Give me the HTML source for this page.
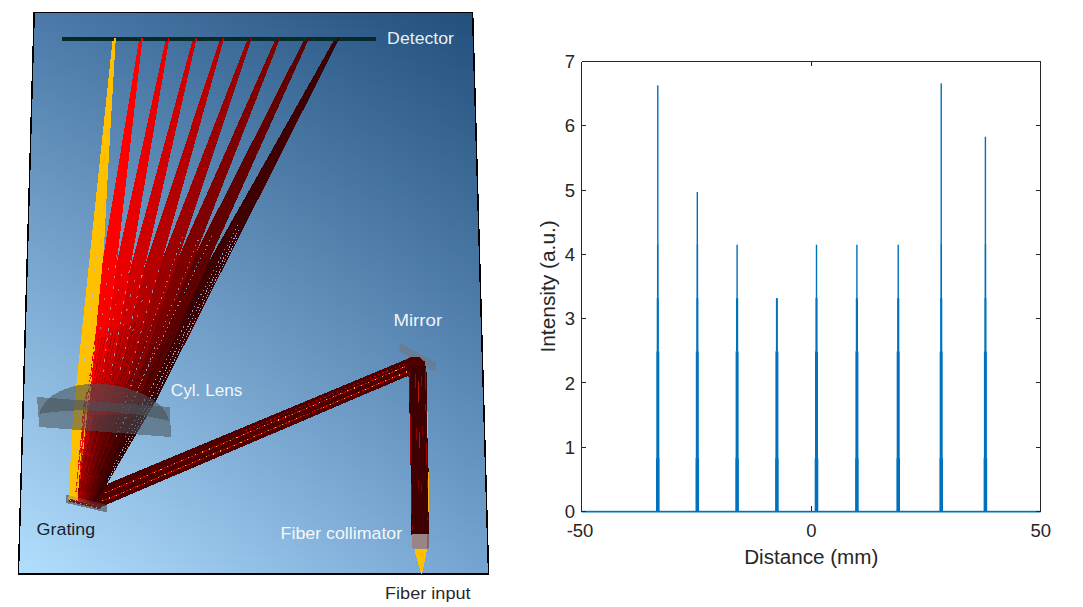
<!DOCTYPE html>
<html>
<head>
<meta charset="utf-8">
<title>Spectrometer ray trace and detector intensity</title>
<style>
  html, body { margin: 0; padding: 0; background: #ffffff; }
  body { width: 1083px; height: 607px; overflow: hidden; }
  svg { display: block; font-family: "Liberation Sans", sans-serif; }
</style>
</head>
<body>
<svg width="1083" height="607" viewBox="0 0 1083 607">
<rect x="0" y="0" width="1083" height="607" fill="#ffffff"/>
<defs>
<linearGradient id="bgTop" gradientUnits="userSpaceOnUse" x1="26" y1="0" x2="481" y2="0"><stop offset="0" stop-color="#4c7baa"/><stop offset="1" stop-color="#224f7c"/></linearGradient>
<linearGradient id="bgBot" gradientUnits="userSpaceOnUse" x1="26" y1="0" x2="481" y2="0"><stop offset="0" stop-color="#b2defd"/><stop offset="1" stop-color="#76a5d2"/></linearGradient>
<linearGradient id="bgMix" gradientUnits="userSpaceOnUse" x1="0" y1="12" x2="0" y2="574"><stop offset="0" stop-color="#fff" stop-opacity="0"/><stop offset="1" stop-color="#fff" stop-opacity="1"/></linearGradient>
<mask id="bgMask" maskUnits="userSpaceOnUse" x="0" y="0" width="520" height="607"><rect x="0" y="0" width="520" height="607" fill="url(#bgMix)"/></mask>
<clipPath id="panelclip"><polygon points="34.2,12.3 472.6,12.3 488.6,574.2 18.4,574.2"/></clipPath>
</defs>
<polygon points="34.2,12.3 472.6,12.3 488.6,574.2 18.4,574.2" fill="url(#bgTop)"/>
<polygon points="34.2,12.3 472.6,12.3 488.6,574.2 18.4,574.2" fill="url(#bgBot)" mask="url(#bgMask)"/>
<polygon points="34.2,12.3 472.6,12.3 488.6,574.2 18.4,574.2" fill="none" stroke="#000" stroke-width="1.5" stroke-linejoin="miter" shape-rendering="crispEdges"/>
<g clip-path="url(#panelclip)" shape-rendering="crispEdges">
<polygon points="66.0,494.5 107.0,505.0 107.0,512.5 66.3,503.0" fill="#66727c" fill-opacity="0.85"/>
<polygon points="335.4,37.5 339.9,37.5 267.9,180.0 156.4,400.0 107.0,484.0 100.5,507.8 83.6,503.1 130.5,400.0 255.0,180.0" fill="#3e0000"/>
<polygon points="305.2,37.5 309.5,37.5 245.5,180.0 146.3,400.0 91.3,505.1 81.6,502.7 121.1,400.0 233.0,180.0" fill="#620000"/>
<polygon points="276.2,37.5 280.4,37.5 224.7,180.0 138.5,400.0 89.2,504.5 79.7,502.2 115.0,400.0 213.0,180.0" fill="#800000"/>
<polygon points="248.2,37.5 252.1,37.5 204.5,180.0 130.7,400.0 87.1,504.0 77.8,501.7 107.4,400.0 193.0,180.0" fill="#9c0000"/>
<polygon points="220.6,37.5 224.2,37.5 184.5,180.0 122.9,400.0 85.0,503.5 75.9,501.2 100.6,400.0 173.5,180.0" fill="#b60000"/>
<polygon points="193.3,37.5 196.8,37.5 164.5,180.0 114.4,400.0 82.9,503.0 74.0,500.7 94.3,400.0 154.5,180.0" fill="#d00000"/>
<polygon points="166.2,37.5 169.5,37.5 145.3,180.0 107.9,400.0 80.7,502.4 72.0,500.3 86.7,400.0 135.0,180.0" fill="#e80000"/>
<polygon points="139.4,37.5 142.6,37.5 126.3,180.0 101.1,400.0 78.6,501.9 70.1,499.8 79.7,400.0 116.0,180.0" fill="#ff0000"/>
<polyline points="101.2,294.0 92.7,350.0 85.0,400.0 79.9,440.0 75.5,475.0" fill="none" stroke="#e80000" stroke-width="1.1" stroke-opacity="0.55" stroke-dasharray="5 2 9 3"/>
<polyline points="105.2,294.0 97.4,350.0 90.4,400.0 84.0,440.0 78.5,475.0" fill="none" stroke="#e80000" stroke-width="1.1" stroke-opacity="0.45" stroke-dasharray="5 2 9 3"/>
<polyline points="109.2,294.0 102.1,350.0 95.8,400.0 88.2,440.0 81.5,475.0" fill="none" stroke="#e80000" stroke-width="1.1" stroke-opacity="0.55" stroke-dasharray="5 2 9 3"/>
<polyline points="115.2,288.0 102.4,350.0 92.0,400.0 85.0,440.0 78.8,475.0" fill="none" stroke="#d00000" stroke-width="1.1" stroke-opacity="0.55" stroke-dasharray="5 2 9 3"/>
<polyline points="119.1,288.0 107.0,350.0 97.3,400.0 89.1,440.0 81.8,475.0" fill="none" stroke="#d00000" stroke-width="1.1" stroke-opacity="0.45" stroke-dasharray="5 2 9 3"/>
<polyline points="123.0,288.0 111.7,350.0 102.6,400.0 93.2,440.0 84.9,475.0" fill="none" stroke="#d00000" stroke-width="1.1" stroke-opacity="0.55" stroke-dasharray="5 2 9 3"/>
<polyline points="130.3,282.0 112.4,350.0 99.3,400.0 90.2,440.0 82.2,475.0" fill="none" stroke="#b60000" stroke-width="1.1" stroke-opacity="0.55" stroke-dasharray="5 2 9 3"/>
<polyline points="133.9,282.0 116.9,350.0 104.3,400.0 94.2,440.0 85.2,475.0" fill="none" stroke="#b60000" stroke-width="1.1" stroke-opacity="0.45" stroke-dasharray="5 2 9 3"/>
<polyline points="137.6,282.0 121.3,350.0 109.4,400.0 98.1,440.0 88.3,475.0" fill="none" stroke="#b60000" stroke-width="1.1" stroke-opacity="0.55" stroke-dasharray="5 2 9 3"/>
<polyline points="145.7,276.0 122.1,350.0 106.2,400.0 95.2,440.0 85.5,475.0" fill="none" stroke="#9c0000" stroke-width="1.1" stroke-opacity="0.55" stroke-dasharray="5 2 9 3"/>
<polyline points="149.7,276.0 127.0,350.0 111.8,400.0 99.5,440.0 88.8,475.0" fill="none" stroke="#9c0000" stroke-width="1.1" stroke-opacity="0.45" stroke-dasharray="5 2 9 3"/>
<polyline points="153.6,276.0 132.0,350.0 117.3,400.0 103.9,440.0 92.1,475.0" fill="none" stroke="#9c0000" stroke-width="1.1" stroke-opacity="0.55" stroke-dasharray="5 2 9 3"/>
<polyline points="162.1,270.0 132.0,350.0 113.2,400.0 100.3,440.0 88.9,475.0" fill="none" stroke="#800000" stroke-width="1.1" stroke-opacity="0.55" stroke-dasharray="5 2 9 3"/>
<polyline points="166.1,270.0 137.2,350.0 119.0,400.0 104.8,440.0 92.4,475.0" fill="none" stroke="#800000" stroke-width="1.1" stroke-opacity="0.45" stroke-dasharray="5 2 9 3"/>
<polyline points="170.2,270.0 142.3,350.0 124.9,400.0 109.4,440.0 95.8,475.0" fill="none" stroke="#800000" stroke-width="1.1" stroke-opacity="0.55" stroke-dasharray="5 2 9 3"/>
<polyline points="179.6,264.0 142.5,350.0 120.9,400.0 105.8,440.0 92.6,475.0" fill="none" stroke="#620000" stroke-width="1.1" stroke-opacity="0.55" stroke-dasharray="5 2 9 3"/>
<polyline points="183.7,264.0 147.7,350.0 126.7,400.0 110.4,440.0 96.1,475.0" fill="none" stroke="#620000" stroke-width="1.1" stroke-opacity="0.45" stroke-dasharray="5 2 9 3"/>
<polyline points="187.7,264.0 152.9,350.0 132.6,400.0 115.0,440.0 99.6,475.0" fill="none" stroke="#620000" stroke-width="1.1" stroke-opacity="0.55" stroke-dasharray="5 2 9 3"/>
<polyline points="197.6,258.0 152.1,350.0 127.4,400.0 110.6,440.0 95.9,475.0" fill="none" stroke="#3e0000" stroke-width="1.1" stroke-opacity="0.55" stroke-dasharray="5 2 9 3"/>
<polyline points="201.8,258.0 157.7,350.0 133.7,400.0 115.5,440.0 99.6,475.0" fill="none" stroke="#3e0000" stroke-width="1.1" stroke-opacity="0.45" stroke-dasharray="5 2 9 3"/>
<polyline points="206.1,258.0 163.2,350.0 140.0,400.0 120.4,440.0 103.3,475.0" fill="none" stroke="#3e0000" stroke-width="1.1" stroke-opacity="0.55" stroke-dasharray="5 2 9 3"/>
<polyline points="218.5,252.0 164.5,350.0 137.0,400.0 117.6,440.0 100.7,475.0" fill="none" stroke="#2c0000" stroke-width="1.1" stroke-opacity="0.55" stroke-dasharray="5 2 9 3"/>
<polyline points="222.8,252.0 170.3,350.0 143.5,400.0 122.9,440.0 104.8,475.0" fill="none" stroke="#2c0000" stroke-width="1.1" stroke-opacity="0.45" stroke-dasharray="5 2 9 3"/>
<polyline points="227.1,252.0 176.0,350.0 149.9,400.0 128.0,440.0 108.7,475.0" fill="none" stroke="#2c0000" stroke-width="1.1" stroke-opacity="0.55" stroke-dasharray="5 2 9 3"/>
<linearGradient id="fanshade" gradientUnits="userSpaceOnUse" x1="0" y1="320" x2="0" y2="490"><stop offset="0" stop-color="#300000" stop-opacity="0"/><stop offset="0.45" stop-color="#300000" stop-opacity="0.18"/><stop offset="1" stop-color="#300000" stop-opacity="0.38"/></linearGradient>
<polygon points="102.4,320.0 97.0,360.0 91.5,400.0 83.2,450.0 75.3,498.0 100.0,505.5 107.0,484.0 156.4,400.0 176.7,360.0 197.0,320.0" fill="url(#fanshade)"/>
<linearGradient id="fanshade2" gradientUnits="userSpaceOnUse" x1="84" y1="470" x2="128" y2="455"><stop offset="0" stop-color="#2a0000" stop-opacity="0"/><stop offset="0.5" stop-color="#2a0000" stop-opacity="0.30"/><stop offset="1" stop-color="#2a0000" stop-opacity="0.45"/></linearGradient>
<polygon points="93.9,415.0 87.0,450.0 77.2,500.0 100.0,507.5 107.0,484.0 127.0,450.0 147.6,415.0" fill="url(#fanshade2)"/>
<polyline points="95.4,340.3 93.8,350.0 85.3,400.0 78.8,450.0 73.3,492.0" fill="none" stroke="#380000" stroke-width="1" stroke-opacity="0.22" stroke-dasharray="16 2"/>
<polyline points="98.8,338.7 96.8,350.0 87.7,400.0 80.4,450.0 74.3,492.0" fill="none" stroke="#380000" stroke-width="1" stroke-opacity="0.22" stroke-dasharray="12 2"/>
<polyline points="102.3,337.0 99.8,350.0 90.2,400.0 82.1,450.0 75.3,492.0" fill="none" stroke="#380000" stroke-width="1" stroke-opacity="0.38" stroke-dasharray="19 2"/>
<polyline points="105.8,335.3 102.8,350.0 92.6,400.0 83.7,450.0 76.3,492.0" fill="none" stroke="#380000" stroke-width="1" stroke-opacity="0.22" stroke-dasharray="15 2"/>
<polyline points="109.3,333.7 105.8,350.0 95.0,400.0 85.4,450.0 77.3,492.0" fill="none" stroke="#380000" stroke-width="1" stroke-opacity="0.22" stroke-dasharray="11 2"/>
<polyline points="112.9,332.0 108.8,350.0 97.4,400.0 87.0,450.0 78.3,492.0" fill="none" stroke="#380000" stroke-width="1" stroke-opacity="0.38" stroke-dasharray="18 2"/>
<polyline points="116.5,330.3 111.8,350.0 99.9,400.0 88.7,450.0 79.2,492.0" fill="none" stroke="#380000" stroke-width="1" stroke-opacity="0.22" stroke-dasharray="14 2"/>
<polyline points="120.2,328.7 114.8,350.0 102.3,400.0 90.3,450.0 80.2,492.0" fill="none" stroke="#380000" stroke-width="1" stroke-opacity="0.22" stroke-dasharray="10 2"/>
<polyline points="123.9,327.0 117.9,350.0 104.7,400.0 91.9,450.0 81.2,492.0" fill="none" stroke="#380000" stroke-width="1" stroke-opacity="0.38" stroke-dasharray="17 2"/>
<polyline points="127.6,325.3 120.9,350.0 107.1,400.0 93.6,450.0 82.2,492.0" fill="none" stroke="#380000" stroke-width="1" stroke-opacity="0.22" stroke-dasharray="13 2"/>
<polyline points="131.4,323.7 123.9,350.0 109.6,400.0 95.2,450.0 83.2,492.0" fill="none" stroke="#380000" stroke-width="1" stroke-opacity="0.22" stroke-dasharray="9 2"/>
<polyline points="135.2,322.0 126.9,350.0 112.0,400.0 96.9,450.0 84.2,492.0" fill="none" stroke="#380000" stroke-width="1" stroke-opacity="0.38" stroke-dasharray="16 2"/>
<polyline points="139.1,320.3 129.9,350.0 114.4,400.0 98.5,450.0 85.2,492.0" fill="none" stroke="#380000" stroke-width="1" stroke-opacity="0.22" stroke-dasharray="12 2"/>
<polyline points="143.0,318.7 132.9,350.0 116.8,400.0 100.2,450.0 86.2,492.0" fill="none" stroke="#380000" stroke-width="1" stroke-opacity="0.22" stroke-dasharray="19 2"/>
<polyline points="146.9,317.0 135.9,350.0 119.3,400.0 101.8,450.0 87.1,492.0" fill="none" stroke="#380000" stroke-width="1" stroke-opacity="0.38" stroke-dasharray="15 2"/>
<polyline points="150.9,315.3 138.9,350.0 121.7,400.0 103.5,450.0 88.1,492.0" fill="none" stroke="#380000" stroke-width="1" stroke-opacity="0.22" stroke-dasharray="11 2"/>
<polyline points="154.9,313.7 141.9,350.0 124.1,400.0 105.1,450.0 89.1,492.0" fill="none" stroke="#380000" stroke-width="1" stroke-opacity="0.22" stroke-dasharray="18 2"/>
<polyline points="158.9,312.0 144.9,350.0 126.5,400.0 106.7,450.0 90.1,492.0" fill="none" stroke="#380000" stroke-width="1" stroke-opacity="0.38" stroke-dasharray="14 2"/>
<polyline points="163.0,310.3 148.0,350.0 129.0,400.0 108.4,450.0 91.1,492.0" fill="none" stroke="#380000" stroke-width="1" stroke-opacity="0.22" stroke-dasharray="10 2"/>
<polyline points="167.2,308.7 151.0,350.0 131.4,400.0 110.0,450.0 92.1,492.0" fill="none" stroke="#380000" stroke-width="1" stroke-opacity="0.22" stroke-dasharray="17 2"/>
<polyline points="171.3,307.0 154.0,350.0 133.8,400.0 111.7,450.0 93.1,492.0" fill="none" stroke="#380000" stroke-width="1" stroke-opacity="0.38" stroke-dasharray="13 2"/>
<polyline points="175.5,305.3 157.0,350.0 136.2,400.0 113.3,450.0 94.1,492.0" fill="none" stroke="#380000" stroke-width="1" stroke-opacity="0.22" stroke-dasharray="9 2"/>
<polyline points="179.8,303.7 160.0,350.0 138.7,400.0 115.0,450.0 95.0,492.0" fill="none" stroke="#380000" stroke-width="1" stroke-opacity="0.22" stroke-dasharray="16 2"/>
<polyline points="184.0,302.0 163.0,350.0 141.1,400.0 116.6,450.0 96.0,492.0" fill="none" stroke="#380000" stroke-width="1" stroke-opacity="0.38" stroke-dasharray="12 2"/>
<polyline points="188.4,300.3 166.0,350.0 143.5,400.0 118.3,450.0 97.0,492.0" fill="none" stroke="#380000" stroke-width="1" stroke-opacity="0.22" stroke-dasharray="19 2"/>
<polyline points="192.7,298.7 169.0,350.0 145.9,400.0 119.9,450.0 98.0,492.0" fill="none" stroke="#380000" stroke-width="1" stroke-opacity="0.22" stroke-dasharray="15 2"/>
<polyline points="197.1,297.0 172.0,350.0 148.4,400.0 121.5,450.0 99.0,492.0" fill="none" stroke="#380000" stroke-width="1" stroke-opacity="0.38" stroke-dasharray="11 2"/>
<polyline points="201.6,295.3 175.1,350.0 150.8,400.0 123.2,450.0 100.0,492.0" fill="none" stroke="#380000" stroke-width="1" stroke-opacity="0.22" stroke-dasharray="18 2"/>
<polyline points="206.0,293.7 178.1,350.0 153.2,400.0 124.8,450.0 101.0,492.0" fill="none" stroke="#380000" stroke-width="1" stroke-opacity="0.22" stroke-dasharray="14 2"/>
<polygon points="112.8,37.5 115.8,37.5 107.5,180.0 103.8,250.0 96.1,330.0 88.0,384.0 82.5,430.0 80.6,460.0 77.5,501.6 68.4,499.4 70.6,460.0 72.2,430.0 74.8,400.0 82.0,330.0 97.8,180.0" fill="#ffc000"/>
<line x1="92.5" y1="350.0" x2="84.0" y2="440.0" stroke="#ffc000" stroke-width="1.2" stroke-dasharray="7 3 4 2"/>
<line x1="90.0" y1="362.0" x2="82.5" y2="455.0" stroke="#ffb000" stroke-width="1.2" stroke-dasharray="7 3 4 2"/>
<line x1="94.5" y1="345.0" x2="88.5" y2="405.0" stroke="#ffc000" stroke-width="1.2" stroke-dasharray="7 3 4 2"/>
<line x1="86.5" y1="392.0" x2="80.0" y2="480.0" stroke="#ff2000" stroke-width="1.2" stroke-dasharray="7 3 4 2"/>
<line x1="84.5" y1="400.0" x2="78.5" y2="470.0" stroke="#e01000" stroke-width="1.2" stroke-dasharray="7 3 4 2"/>
<line x1="81.0" y1="440.0" x2="76.0" y2="492.0" stroke="#e82000" stroke-width="1.2" stroke-dasharray="7 3 4 2"/>
<polyline points="117.0,255.0 111.7,300.0 105.9,350.0 103.0,375.0" fill="none" stroke="#9cc0e4" stroke-width="1" stroke-dasharray="2.5 8" stroke-opacity="0.72"/>
<polyline points="108.8,268.0 104.4,300.0 99.5,335.0" fill="none" stroke="#9cc0e4" stroke-width="1" stroke-dasharray="2 13" stroke-opacity="0.60"/>
<polyline points="131.0,260.0 124.1,300.0 115.5,350.0 111.1,375.0" fill="none" stroke="#9cc0e4" stroke-width="1" stroke-dasharray="2.5 8" stroke-opacity="0.72"/>
<polyline points="121.8,274.0 116.8,300.0 110.0,335.0" fill="none" stroke="#9cc0e4" stroke-width="1" stroke-dasharray="2 13" stroke-opacity="0.60"/>
<polyline points="144.4,265.0 136.4,300.0 124.9,350.0 119.1,375.0" fill="none" stroke="#9cc0e4" stroke-width="1" stroke-dasharray="2.5 8" stroke-opacity="0.72"/>
<polyline points="134.4,280.0 129.4,300.0 120.6,335.0" fill="none" stroke="#9cc0e4" stroke-width="1" stroke-dasharray="2 13" stroke-opacity="0.60"/>
<polyline points="158.5,270.0 150.0,300.0 135.9,350.0 128.9,375.0" fill="none" stroke="#9cc0e4" stroke-width="1" stroke-dasharray="2.5 8" stroke-opacity="0.72"/>
<polyline points="146.6,286.0 142.3,300.0 131.6,335.0" fill="none" stroke="#9cc0e4" stroke-width="1" stroke-dasharray="2 13" stroke-opacity="0.60"/>
<polyline points="182.5,237.0 160.6,300.0 143.3,350.0 126.0,400.0 116.2,425.0" fill="none" stroke="#9cc0e4" stroke-width="1" stroke-dasharray="1.2 4.6" stroke-opacity="0.75"/>
<polyline points="198.2,240.0 174.0,300.0 153.9,350.0 133.8,400.0 122.6,425.0" fill="none" stroke="#9cc0e4" stroke-width="1" stroke-dasharray="1.2 4.6" stroke-opacity="0.75"/>
<polyline points="211.6,236.0 180.7,300.0 156.5,350.0 132.4,400.0 114.5,440.0" fill="none" stroke="#9cc0e4" stroke-width="1" stroke-dasharray="1.2 3.6" stroke-opacity="0.80"/>
<polyline points="238.1,225.0 198.1,300.0 171.4,350.0 144.8,400.0 123.9,440.0" fill="none" stroke="#9cc0e4" stroke-width="1" stroke-dasharray="1.2 3.4" stroke-opacity="0.80"/>
<polyline points="238.4,230.0 201.9,300.0 175.8,350.0 149.7,400.0 111.3,470.0" fill="none" stroke="#9cc0e4" stroke-width="1" stroke-dasharray="1.2 1.9" stroke-opacity="0.90"/>
<polyline points="236.9,238.0 205.1,300.0 179.5,350.0 153.8,400.0 108.0,480.0" fill="none" stroke="#9cc0e4" stroke-width="1" stroke-dasharray="1.2 1.7" stroke-opacity="0.90"/>
<polyline points="96.5,255.0 88.5,330.0 79.5,402.0 75.5,462.0" fill="none" stroke="#9cc0e4" stroke-width="1" stroke-dasharray="3 10" stroke-opacity="0.75"/>
<polygon points="108.6,483.3 412.3,356.8 419.0,356.5 423.0,369.5 100.2,507.4 92.0,505.3" fill="#4e0000"/>
<line x1="105.2" y1="492.9" x2="416.6" y2="361.9" stroke="#d80000" stroke-width="1.0" stroke-dasharray="2 1.2"/>
<line x1="105.2" y1="492.9" x2="416.6" y2="361.9" stroke="#ffa818" stroke-width="1.0" stroke-dasharray="1.0 6.5"/>
<line x1="102.4" y1="501.1" x2="420.2" y2="366.2" stroke="#d80000" stroke-width="1.1" stroke-dasharray="2 1.2"/>
<line x1="102.4" y1="501.1" x2="420.2" y2="366.2" stroke="#ffa818" stroke-width="1.1" stroke-dasharray="1.0 6.5"/>
<line x1="245.3" y1="430.5" x2="414.7" y2="359.6" stroke="#c00000" stroke-width="1.1" stroke-dasharray="1.5 3"/>
<line x1="69.5" y1="500.4" x2="100" y2="508.0" stroke="#5a0000" stroke-width="2.4"/>
<line x1="69.5" y1="500.6" x2="100" y2="508.2" stroke="#ffb818" stroke-width="1.1" stroke-dasharray="1.2 4.3"/>
<line x1="71.5" y1="499.2" x2="101" y2="506.6" stroke="#d80000" stroke-width="1" stroke-dasharray="1.2 3.1"/>
<polygon points="400.3,343.0 436.2,362.8 435.2,371.8 399.0,351.2" fill="#677d93" fill-opacity="0.95"/>
<polygon points="404.0,360.3 412.3,356.5 419.0,357.0 424.6,361.5 426.5,372.0 408.6,377.0" fill="#4e0000"/>
<polygon points="408.6,366.0 426.4,366.0 429.2,500.0 429.0,535.0 411.4,535.0 411.2,500.0" fill="#3e0000"/>
<line x1="426.4" y1="368" x2="428.9" y2="520" stroke="#ffb010" stroke-width="1.1" stroke-dasharray="0 44 26 34 40 30"/>
<line x1="425.3" y1="368" x2="427.8" y2="520" stroke="#b00000" stroke-width="1" stroke-dasharray="22 14 9 30"/>
<line x1="409.4" y1="372" x2="412.2" y2="530" stroke="#a00000" stroke-width="1" stroke-dasharray="30 12 50 20"/>
<line x1="415.0" y1="374.0" x2="415.5" y2="388.0" stroke="#b00000" stroke-width="1" stroke-opacity="0.85"/>
<line x1="418.5" y1="382.0" x2="419.0" y2="402.0" stroke="#d02000" stroke-width="1" stroke-opacity="0.85"/>
<line x1="421.5" y1="376.0" x2="422.0" y2="386.0" stroke="#a80000" stroke-width="1" stroke-opacity="0.85"/>
<line x1="416.5" y1="428.0" x2="417.0" y2="440.0" stroke="#a00000" stroke-width="1" stroke-opacity="0.85"/>
<line x1="419.5" y1="432.0" x2="420.0" y2="448.0" stroke="#c81800" stroke-width="1" stroke-opacity="0.85"/>
<line x1="422.5" y1="426.0" x2="423.0" y2="435.0" stroke="#980000" stroke-width="1" stroke-opacity="0.85"/>
<line x1="418.0" y1="480.0" x2="418.5" y2="489.0" stroke="#980000" stroke-width="1" stroke-opacity="0.85"/>
<line x1="421.0" y1="484.0" x2="421.5" y2="492.0" stroke="#900000" stroke-width="1" stroke-opacity="0.85"/>
<polygon points="411.8,533.5 428.8,533.5 428.8,547.0 426.5,549.0 414.0,549.0 411.8,547.0" fill="#9b8485"/>
<polygon points="426.5,534.0 429.2,534.0 429.2,548.0 426.5,549.0" fill="#7d6668"/>
<polygon points="414.2,548.8 427.2,548.8 422.2,574.0 421.0,574.0" fill="#ffc000"/>
<polygon points="37.0,397.0 169.8,407.0 171.0,437.0 39.3,427.0" fill="#48525a" fill-opacity="0.55"/>
<path d="M 39 414 C 44 394, 70 383.5, 97 383.5 C 128 384.5, 164 398, 169.5 421 Q 100 404, 39 414 Z" fill="#48525a" fill-opacity="0.58"/>
<polygon points="66.0,494.5 107.0,505.0 107.0,512.5 66.3,503.0" fill="#6c7882" fill-opacity="0.28"/>
<rect x="62" y="37" width="313.6" height="4" fill="#062a28"/>
<rect x="114.1" y="37.6" width="1.8" height="3.6" fill="#ffc000"/>
<rect x="140.8" y="37.6" width="1.8" height="3.6" fill="#ff0000"/>
<rect x="167.6" y="37.6" width="1.8" height="3.6" fill="#e80000"/>
<rect x="194.9" y="37.6" width="1.8" height="3.6" fill="#d00000"/>
<rect x="222.2" y="37.6" width="1.8" height="3.6" fill="#b60000"/>
<rect x="250.0" y="37.6" width="1.8" height="3.6" fill="#9c0000"/>
<rect x="278.1" y="37.6" width="1.8" height="3.6" fill="#800000"/>
<rect x="307.2" y="37.6" width="1.8" height="3.6" fill="#620000"/>
<rect x="337.4" y="37.6" width="1.8" height="3.6" fill="#3e0000"/>
</g>
<text x="387.1" y="44.2" font-size="16.80" fill="#ffffff" fill-opacity="0.93" textLength="66.9" lengthAdjust="spacingAndGlyphs">Detector</text>
<text x="393.4" y="325.8" font-size="16.80" fill="#ffffff" fill-opacity="0.93" textLength="48.8" lengthAdjust="spacingAndGlyphs">Mirror</text>
<text x="170.8" y="395.5" font-size="16.80" fill="#ffffff" fill-opacity="0.93" textLength="71.6" lengthAdjust="spacingAndGlyphs">Cyl. Lens</text>
<text x="36.6" y="534.9" font-size="16.80" fill="#0c0c18" fill-opacity="0.93" textLength="58.6" lengthAdjust="spacingAndGlyphs">Grating</text>
<text x="280.6" y="538.5" font-size="16.80" fill="#ffffff" fill-opacity="0.93" textLength="121.6" lengthAdjust="spacingAndGlyphs">Fiber collimator</text>
<text x="385.0" y="598.8" font-size="16.80" fill="#101010" fill-opacity="0.93" textLength="85.6" lengthAdjust="spacingAndGlyphs">Fiber input</text>
<g fill="#0072bd" stroke="none">
<rect x="581.5" y="510.8" width="459.0" height="1.7"/>
<rect x="657.10" y="85.3" width="1.4" height="159.7"/>
<rect x="656.95" y="244.7" width="1.7" height="53.7"/>
<rect x="656.70" y="298.1" width="2.2" height="53.7"/>
<rect x="656.30" y="351.4" width="3.0" height="107.0"/>
<rect x="656.00" y="458.1" width="3.6" height="53.7"/>
<rect x="696.60" y="192.0" width="1.4" height="53.0"/>
<rect x="696.45" y="244.7" width="1.7" height="53.7"/>
<rect x="696.20" y="298.1" width="2.2" height="53.7"/>
<rect x="695.80" y="351.4" width="3.0" height="107.0"/>
<rect x="695.50" y="458.1" width="3.6" height="53.7"/>
<rect x="736.40" y="244.7" width="1.4" height="53.7"/>
<rect x="736.00" y="298.1" width="2.2" height="53.7"/>
<rect x="735.60" y="351.4" width="3.0" height="107.0"/>
<rect x="735.30" y="458.1" width="3.6" height="53.7"/>
<rect x="775.90" y="298.1" width="2.0" height="53.7"/>
<rect x="775.40" y="351.4" width="3.0" height="107.0"/>
<rect x="775.10" y="458.1" width="3.6" height="53.7"/>
<rect x="815.80" y="244.7" width="1.4" height="53.7"/>
<rect x="815.40" y="298.1" width="2.2" height="53.7"/>
<rect x="815.00" y="351.4" width="3.0" height="107.0"/>
<rect x="814.70" y="458.1" width="3.6" height="53.7"/>
<rect x="856.20" y="244.7" width="1.4" height="53.7"/>
<rect x="855.80" y="298.1" width="2.2" height="53.7"/>
<rect x="855.40" y="351.4" width="3.0" height="107.0"/>
<rect x="855.10" y="458.1" width="3.6" height="53.7"/>
<rect x="897.50" y="244.7" width="1.4" height="53.7"/>
<rect x="897.10" y="298.1" width="2.2" height="53.7"/>
<rect x="896.70" y="351.4" width="3.0" height="107.0"/>
<rect x="896.40" y="458.1" width="3.6" height="53.7"/>
<rect x="940.50" y="83.4" width="1.4" height="161.7"/>
<rect x="940.35" y="244.7" width="1.7" height="53.7"/>
<rect x="940.10" y="298.1" width="2.2" height="53.7"/>
<rect x="939.70" y="351.4" width="3.0" height="107.0"/>
<rect x="939.40" y="458.1" width="3.6" height="53.7"/>
<rect x="984.70" y="136.7" width="1.4" height="108.3"/>
<rect x="984.55" y="244.7" width="1.7" height="53.7"/>
<rect x="984.30" y="298.1" width="2.2" height="53.7"/>
<rect x="983.90" y="351.4" width="3.0" height="107.0"/>
<rect x="983.60" y="458.1" width="3.6" height="53.7"/>
</g>
<g stroke="#262626" stroke-width="1" fill="none" shape-rendering="crispEdges">
<path d="M 581.5 61.5 H 1040.5 V 511.5"/>
<path d="M 581.5 61.5 V 511.5"/>
<path d="M 581.5 61.5 v 4.6"/>
<path d="M 811.5 61.5 v 4.6"/>
<path d="M 811.5 510.5 v -4.6"/>
<path d="M 1040.5 61.5 v 4.6"/>
<path d="M 581.5 511.5 h 4.6"/>
<path d="M 1040.5 511.5 h -4.6"/>
<path d="M 581.5 447.5 h 4.6"/>
<path d="M 1040.5 447.5 h -4.6"/>
<path d="M 581.5 382.5 h 4.6"/>
<path d="M 1040.5 382.5 h -4.6"/>
<path d="M 581.5 318.5 h 4.6"/>
<path d="M 1040.5 318.5 h -4.6"/>
<path d="M 581.5 254.5 h 4.6"/>
<path d="M 1040.5 254.5 h -4.6"/>
<path d="M 581.5 190.5 h 4.6"/>
<path d="M 1040.5 190.5 h -4.6"/>
<path d="M 581.5 125.5 h 4.6"/>
<path d="M 1040.5 125.5 h -4.6"/>
<path d="M 581.5 61.5 h 4.6"/>
<path d="M 1040.5 61.5 h -4.6"/>
</g>
<g font-size="18.5" fill="#262626">
<text x="575.0" y="518.1" text-anchor="end">0</text>
<text x="575.0" y="453.8" text-anchor="end">1</text>
<text x="575.0" y="389.5" text-anchor="end">2</text>
<text x="575.0" y="325.2" text-anchor="end">3</text>
<text x="575.0" y="261.0" text-anchor="end">4</text>
<text x="575.0" y="196.7" text-anchor="end">5</text>
<text x="575.0" y="132.4" text-anchor="end">6</text>
<text x="575.0" y="68.1" text-anchor="end">7</text>
<text x="580.0" y="537.2" text-anchor="middle">-50</text>
<text x="811.3" y="537.2" text-anchor="middle">0</text>
<text x="1040.8" y="537.2" text-anchor="middle">50</text>
</g>
<text x="811.3" y="564.4" font-size="20.65" fill="#262626" text-anchor="middle">Distance (mm)</text>
<text transform="translate(555.2 286.4) rotate(-90)" font-size="20.9" fill="#262626" text-anchor="middle">Intensity (a.u.)</text>
</svg>
</body>
</html>
